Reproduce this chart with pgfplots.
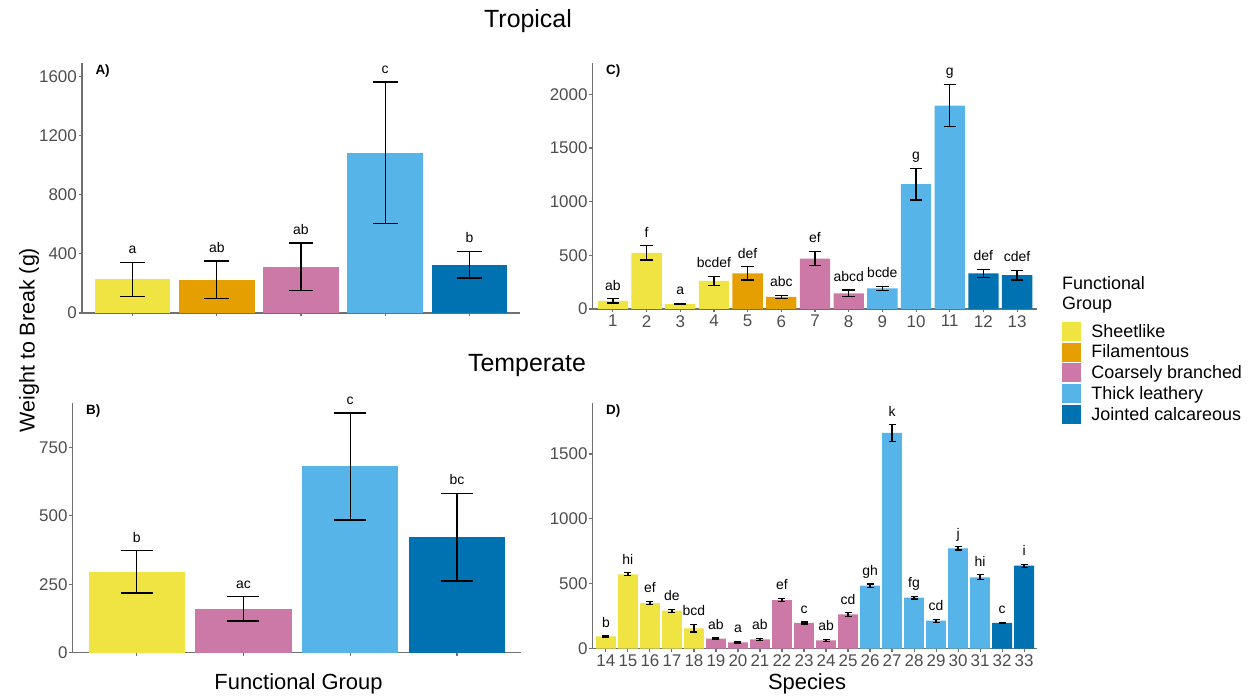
\documentclass[border=0pt]{standalone}
\usepackage{fontspec}
\setmainfont{Liberation Sans}
\usepackage{pgfplots}
\usepackage{pgfplotstable}
\pgfplotsset{compat=1.18}

% Okabe-Ito colours for the five functional groups
\definecolor{sheet}{HTML}{F0E442}
\definecolor{filam}{HTML}{E69F00}
\definecolor{coarse}{HTML}{CC79A7}
\definecolor{thick}{HTML}{56B4E9}
\definecolor{joint}{HTML}{0072B2}
\definecolor{axgray}{HTML}{707070}
\definecolor{ticktext}{HTML}{4D4D4D}

% mean weight to break (g), standard error, significance letters
\pgfplotstableread{
x y e lab
1 228 115 a
2 225 127 ab
3 313 162 ab
4 1086 478 c
5 327 91 b
}\tropgroup

\pgfplotstableread{
x y e lab
1 295 77 b
2 160 44 ac
3 680 195 c
4 422 160 bc
}\tempgroup

\pgfplotstableread{
x y e lab
1 75 20 ab
2 522 66 f
3 45 6 a
4 261 45 bcdef
5 332 62 def
6 112 17 abc
7 470 68 ef
8 146 31 abcd
9 193 17 bcde
10 1163 148 g
11 1896 198 g
12 332 39 def
13 316 46 cdef
}\tropspecies

\pgfplotstableread{
x y e lab
14 95 5 b
15 573 12 hi
16 352 13 ef
17 293 12 de
18 157 29 bcd
19 77 5 ab
20 49 5 a
21 72 6 ab
22 375 13 ef
23 198 8 c
24 64 6 ab
25 264 13 cd
26 485 13 gh
27 1662 63 k
28 393 10 fg
29 216 12 cd
30 773 12 j
31 550 20 hi
32 198 6 c
33 639 12 i
}\tempspecies

\tikzset{plabel/.style={anchor=west, font=\bfseries\fontsize{13.5}{15}\selectfont, xshift=10bp, yshift=-8bp}}

\pgfplotsset{
  sqkey/.style={legend image code/.code={\fill[##1] (0bp,-9.5bp) rectangle (19bp,9.5bp);}},
  grpbar/.style={ybar, bar width=0.9, bar shift=0pt, fill=#1, draw=none, sqkey,
    error bars/.cd, y dir=both, y explicit},
  letters/.style={forget plot, only marks, mark=text, text mark={},
    nodes near coords, point meta=explicit symbolic,
    every node near coord/.style={anchor=south, inner sep=0pt, text depth=0pt,
      yshift=8.5bp, font=\fontsize{14}{16}\selectfont, text=black}},
  panel/.style={
    scale only axis, clip=false,
    axis lines=left, axis line style={-, draw=axgray, line width=1.1bp},
    tick style={draw=axgray, line width=1.1bp},
    tick align=outside, major tick length=3.5bp,
    ymin=0,
    ticklabel style={font=\fontsize{17}{20}\selectfont, text=ticktext, inner sep=0pt},
    yticklabel style={xshift=-1.5bp},
    xticklabel style={yshift=-2.5bp},
    scaled y ticks=false,
    /pgf/number format/.cd, fixed, 1000 sep={}, assume math mode=true, /pgfplots/.cd,
    error bars/error bar style={draw=black, line width=1.3bp},
  },
}

\begin{document}
\begin{tikzpicture}
\path[use as bounding box] (0bp,0bp) rectangle (1253bp,698bp);

% ---------- A) tropical, by functional group ----------
\begin{axis}[panel, at={(82bp,385bp)}, anchor=south west,
  width=438bp, height=250bp,
  xmin=0.4, xmax=5.6, ymax=1693,
  xtick={1,...,5}, xticklabels={},
  ytick={0,400,800,1200,1600},
  error bars/error mark options={rotate=90, draw=black, line width=1.3bp, mark size=12.3bp},
  legend style={at={(2.2374,-0.036)}, anchor=north west, draw=none, fill=none,
    inner sep=0pt, outer sep=0pt, row sep=1.7bp, column sep=10.5bp,
    font=\fontsize{18}{20}\selectfont, cells={anchor=west},
    nodes={inner sep=0pt, text height=15.3bp, text depth=3.7bp}},
  legend cell align=left]
\addplot[grpbar=sheet] table[x=x, y=y, y error=e, restrict x to domain=1:1] \tropgroup;
\addlegendentry{Sheetlike}
\addplot[grpbar=filam] table[x=x, y=y, y error=e, restrict x to domain=2:2] \tropgroup;
\addlegendentry{Filamentous}
\addplot[grpbar=coarse] table[x=x, y=y, y error=e, restrict x to domain=3:3] \tropgroup;
\addlegendentry{Coarsely branched}
\addplot[grpbar=thick] table[x=x, y=y, y error=e, restrict x to domain=4:4] \tropgroup;
\addlegendentry{Thick leathery}
\addplot[grpbar=joint] table[x=x, y=y, y error=e, restrict x to domain=5:5] \tropgroup;
\addlegendentry{Jointed calcareous}
\addplot[letters] table[x=x, y expr=\thisrow{y}+\thisrow{e}, meta=lab] \tropgroup;
\node[plabel] at (rel axis cs:0,1) {A)};
\end{axis}

% ---------- C) tropical, by species ----------
\begin{axis}[panel, at={(592.7bp,389bp)}, anchor=south west,
  width=444.6bp, height=246.3bp,
  xmin=0.4, xmax=13.6, ymax=2295,
  xtick={1,...,13},
  ytick={0,500,1000,1500,2000},
  error bars/error mark options={rotate=90, draw=black, line width=1.2bp, mark size=6.2bp}]
\addplot[grpbar=sheet] table[x=x, y=y, y error=e, restrict x to domain=1:4] \tropspecies;
\addplot[grpbar=filam] table[x=x, y=y, y error=e, restrict x to domain=5:6] \tropspecies;
\addplot[grpbar=coarse] table[x=x, y=y, y error=e, restrict x to domain=7:8] \tropspecies;
\addplot[grpbar=thick] table[x=x, y=y, y error=e, restrict x to domain=9:11] \tropspecies;
\addplot[grpbar=joint] table[x=x, y=y, y error=e, restrict x to domain=12:13] \tropspecies;
\addplot[letters] table[x=x, y expr=\thisrow{y}+\thisrow{e}, meta=lab] \tropspecies;
\node[plabel] at (rel axis cs:0,1) {C)};
\end{axis}

% ---------- B) temperate, by functional group ----------
\begin{axis}[panel, at={(72.7bp,45.3bp)}, anchor=south west,
  width=448.3bp, height=250bp,
  xmin=0.4, xmax=4.6, ymax=913,
  xtick={1,...,4}, xticklabels={},
  ytick={0,250,500,750},
  error bars/error mark options={rotate=90, draw=black, line width=1.3bp, mark size=16bp}]
\addplot[grpbar=sheet] table[x=x, y=y, y error=e, restrict x to domain=1:1] \tempgroup;
\addplot[grpbar=coarse] table[x=x, y=y, y error=e, restrict x to domain=2:2] \tempgroup;
\addplot[grpbar=thick] table[x=x, y=y, y error=e, restrict x to domain=3:3] \tempgroup;
\addplot[grpbar=joint] table[x=x, y=y, y error=e, restrict x to domain=4:4] \tempgroup;
\addplot[letters] table[x=x, y expr=\thisrow{y}+\thisrow{e}, meta=lab] \tempgroup;
\node[plabel] at (rel axis cs:0,1) {B)};
\end{axis}

% ---------- D) temperate, by species ----------
\begin{axis}[panel, at={(592.7bp,49.3bp)}, anchor=south west,
  width=444.6bp, height=246bp,
  xmin=13.4, xmax=33.6, ymax=1895,
  xtick={14,...,33},
  ytick={0,500,1000,1500},
  error bars/error mark options={rotate=90, draw=black, line width=1.2bp, mark size=3.5bp}]
\addplot[grpbar=sheet] table[x=x, y=y, y error=e, restrict x to domain=14:18] \tempspecies;
\addplot[grpbar=coarse] table[x=x, y=y, y error=e, restrict x to domain=19:25] \tempspecies;
\addplot[grpbar=thick] table[x=x, y=y, y error=e, restrict x to domain=26:31] \tempspecies;
\addplot[grpbar=joint] table[x=x, y=y, y error=e, restrict x to domain=32:33] \tempspecies;
\addplot[letters] table[x=x, y expr=\thisrow{y}+\thisrow{e}, meta=lab] \tempspecies;
\node[plabel] at (rel axis cs:0,1) {D)};
\end{axis}

% titles and shared axis titles
\node[anchor=base, font=\fontsize{25}{28}\selectfont] at (528bp,670bp) {Tropical};
\node[anchor=base, font=\fontsize{25}{28}\selectfont] at (527bp,326bp) {Temperate};
\node[anchor=base, rotate=90, font=\fontsize{21.5}{24}\selectfont] at (34.5bp,358bp) {Weight to Break (g)};
\node[anchor=base, font=\fontsize{22}{24}\selectfont] at (298.5bp,9bp) {Functional Group};
\node[anchor=base, font=\fontsize{22}{24}\selectfont] at (807bp,9bp) {Species};
\node[anchor=base west, inner sep=0pt, font=\fontsize{18}{20}\selectfont] at (1062bp,408.7bp) {Functional};
\node[anchor=base west, inner sep=0pt, font=\fontsize{18}{20}\selectfont] at (1062bp,388bp) {Group};
\end{tikzpicture}
\end{document}
